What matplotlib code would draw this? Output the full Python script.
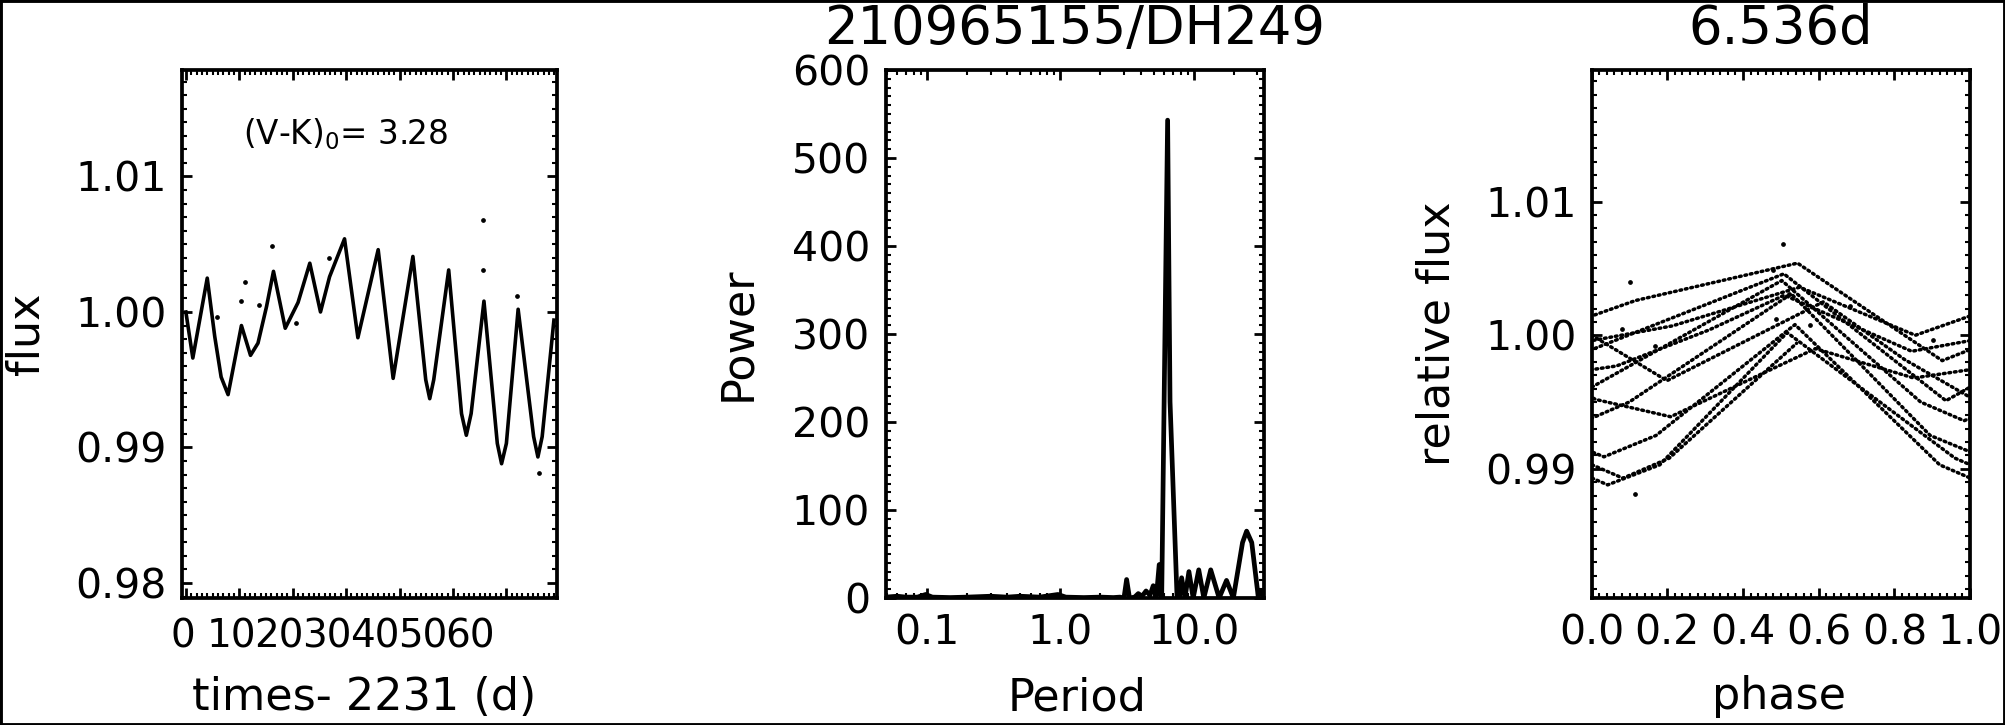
import numpy as np
import matplotlib
matplotlib.use("Agg")
import matplotlib.pyplot as plt
from matplotlib.ticker import MultipleLocator, FixedLocator, FixedFormatter, LogLocator, NullFormatter
from matplotlib.patches import Rectangle

# light curve (time - 2231 d, normalised flux)
lc_t = np.array([0.0, 1.3, 4.0, 5.4, 6.6, 7.9, 10.4, 12.1, 13.5, 15.1, 16.4, 18.6, 21.0, 23.2,
                 25.2, 26.9, 29.7, 32.2, 36.0, 38.8, 42.5, 44.9, 45.65, 46.4, 49.2, 51.6, 52.5,
                 53.4, 55.8, 58.3, 59.1, 60.0, 62.2, 65.1, 65.9, 66.7, 68.9])
lc_f = np.array([1.0000, 0.9966, 1.0025, 0.9982, 0.9952, 0.9939, 0.9990, 0.9968, 0.9977, 1.0004,
                 1.0030, 0.9988, 1.0007, 1.0036, 1.0000, 1.0026, 1.0054, 0.9981, 1.0046, 0.9951,
                 1.0041, 0.9950, 0.9936, 0.9950, 1.0031, 0.9925, 0.9909, 0.9925, 1.0008, 0.9903,
                 0.9888, 0.9903, 1.0002, 0.9908, 0.9893, 0.9908, 0.9994])
# stray points
out_t = np.array([5.9, 10.3, 11.0, 13.6, 16.2, 20.7, 26.8, 55.6, 55.7, 62.0, 66.1])
out_f = np.array([0.99965, 1.0008, 1.0022, 1.0005, 1.0049, 0.9992, 1.0040, 1.0068, 1.0031, 1.0012, 0.9881])
time_ticks = [0, 10, 20, 30, 40, 50, 60]

# periodogram
per = np.array([0.049, 0.06, 0.07, 0.085, 0.098, 0.11, 0.15, 0.2, 0.3, 0.4, 0.5, 0.7, 0.96, 1.1,
                1.5, 2.0, 2.5, 2.8, 3.0, 3.14, 3.3, 3.6, 3.84, 4.1, 4.39, 4.7, 4.97, 5.25, 5.51,
                5.75, 6.37, 6.64, 7.5, 7.78, 8.11, 8.59, 9.2, 9.9, 10.9, 11.9, 13.4, 15.5, 17.6,
                19.8, 23.2, 24.9, 27.2, 30.4, 32.3, 33.6])
power = np.array([1, 2, 1, 1, 4, 1, 0.5, 1, 2, 1, 2, 1, 4, 1,
                  0.5, 1, 0.5, 1, 0, 21, 0, 1, 5, 2, 8, 3, 14, 2, 38,
                  0, 543, 223, 0, 0, 23, 0, 30, 0, 32, 0, 32, 0, 20,
                  0, 63, 76, 63, 2, 8, 0])

period = 6.536
star = "210965155/DH249"
vk = 3.28

fs = 29.5     # tick labels
lfs = 32      # axis titles
W, H = 2005, 725
fig = plt.figure(figsize=(W / 100, H / 100), dpi=100)
fig.patches.append(Rectangle((0, 0), 1, 1, transform=fig.transFigure, fill=False, lw=3.5, ec="k"))

bot = 1 - 598 / H
hgt = (598 - 70) / H


def idl_axes(ax):
    for s in ax.spines.values():
        s.set_linewidth(2.7)
    ax.tick_params(which="both", direction="in", top=True, right=True, labelsize=fs, pad=11)
    ax.tick_params(which="major", length=7, width=2)
    ax.tick_params(which="minor", length=3.5, width=1.5)


# left: light curve
ax1 = fig.add_axes([181.6 / W, bot, (556.6 - 181.6) / W, hgt])
ax1.plot(lc_t, lc_f, color="k", lw=2.6)
ax1.plot(out_t, out_f, ls="none", marker="o", ms=2.4, color="k")
ax1.set_xlim(-0.8, 69.4)
ax1.set_ylim(0.97889, 1.01786)
ax1.xaxis.set_major_locator(FixedLocator(time_ticks))
ax1.xaxis.set_minor_locator(MultipleLocator(1))
ax1.yaxis.set_major_locator(FixedLocator([0.98, 0.99, 1.00, 1.01]))
ax1.yaxis.set_major_formatter(FixedFormatter(["0.98", "0.99", "1.00", "1.01"]))
ax1.yaxis.set_minor_locator(MultipleLocator(0.001))
idl_axes(ax1)
ax1.tick_params(labelbottom=False)
# the time labels sit a little squeezed relative to the tick marks
sec = ax1.secondary_xaxis("bottom", functions=(lambda t: (t + 0.5) / 0.895,
                                                lambda v: v * 0.895 - 0.5))
sec.set_xticks(time_ticks)
sec.tick_params(length=0, labelsize=28, pad=14)
sec.spines["bottom"].set_visible(False)
ax1.set_xlabel("times- 2231 (d)", fontsize=lfs, va="center")
ax1.xaxis.set_label_coords(0.487, -0.1875)
ax1.set_ylabel("flux", fontsize=lfs, va="center")
ax1.yaxis.set_label_coords(-0.415, 0.5)
ax1.text(10.7, 1.0131, r"(V-K)$_0$= %.2f" % vk, fontsize=23.5, ha="left", va="center")

# middle: periodogram
ax2 = fig.add_axes([885.5 / W, bot, (1264 - 885.5) / W, hgt])
ax2.plot(per, power, color="k", lw=3.4)
ax2.set_xscale("log")
ax2.set_xlim(0.049, 33.6)
ax2.set_ylim(0, 600)
ax2.xaxis.set_major_locator(FixedLocator([0.1, 1.0, 10.0]))
ax2.xaxis.set_major_formatter(FixedFormatter(["0.1", "1.0", "10.0"]))
ax2.xaxis.set_minor_locator(LogLocator(subs=np.arange(2, 10)))
ax2.xaxis.set_minor_formatter(NullFormatter())
ax2.yaxis.set_major_locator(MultipleLocator(100))
ax2.yaxis.set_minor_locator(MultipleLocator(10))
idl_axes(ax2)
ax2.set_xlabel("Period", fontsize=lfs, va="center")
ax2.xaxis.set_label_coords(0.505, -0.189)
ax2.set_ylabel("Power", fontsize=lfs, va="center")
ax2.yaxis.set_label_coords(-0.392, 0.5)
ax2.set_title(star, fontsize=38, pad=19)

# right: light curve folded on the period
ax3 = fig.add_axes([1591.7 / W, bot, (1970 - 1591.7) / W, hgt])
cyc = np.floor(lc_t / period).astype(int)
for k in range(cyc.max() + 1):
    ii = np.where(cyc == k)[0]
    if len(ii) == 0:
        continue
    lo = max(ii[0] - 1, 0)
    hi = min(ii[-1] + 2, len(lc_t))
    ax3.plot((lc_t[lo:hi] - k * period) / period, lc_f[lo:hi], color="k",
             lw=2.5, ls=(0, (0.5, 1.1)), dash_capstyle="round")
ax3.plot((out_t % period) / period, out_f, ls="none", marker="o", ms=2.4, color="k")
ax3.set_xlim(0, 1)
ax3.set_ylim(0.98033, 1.01986)
ax3.xaxis.set_major_locator(FixedLocator([0, 0.2, 0.4, 0.6, 0.8, 1.0]))
ax3.xaxis.set_major_formatter(FixedFormatter(["0.0", "0.2", "0.4", "0.6", "0.8", "1.0"]))
ax3.xaxis.set_minor_locator(MultipleLocator(0.02))
ax3.yaxis.set_major_locator(FixedLocator([0.99, 1.00, 1.01]))
ax3.yaxis.set_major_formatter(FixedFormatter(["0.99", "1.00", "1.01"]))
ax3.yaxis.set_minor_locator(MultipleLocator(0.001))
idl_axes(ax3)
ax3.set_xlabel("phase", fontsize=lfs, va="center")
ax3.xaxis.set_label_coords(0.494, -0.1875)
ax3.set_ylabel("relative flux", fontsize=lfs, va="center")
ax3.yaxis.set_label_coords(-0.41, 0.5)
ax3.set_title("%.3fd" % period, fontsize=38, pad=19)

fig.savefig("out.png", dpi=100)
